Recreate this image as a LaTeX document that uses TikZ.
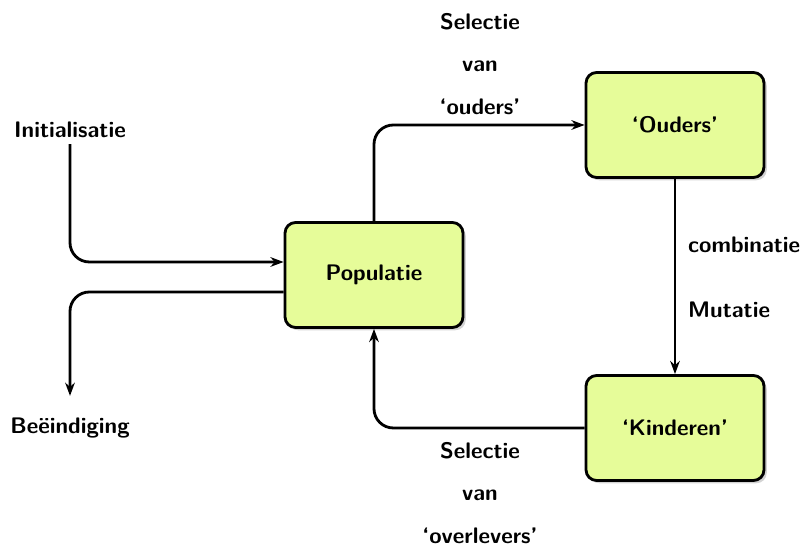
\documentclass[tikz,border=0pt]{standalone}
\usetikzlibrary{arrows.meta,shadows,calc}
\definecolor{boxfill}{RGB}{230,252,153}

\begin{document}
\begin{tikzpicture}[
        x=0.02cm, y=-0.02cm,
        every node/.style={
            font=\sffamily\bfseries\fontsize{12.8}{24}\selectfont
        },
        stage/.style= {
            draw, ultra thick, fill=boxfill, rounded corners=6pt,
            minimum width=3.56cm, minimum height=2.1cm,
            drop shadow={opacity=0.35, shadow xshift=1.6pt, shadow yshift=-1.6pt}
        },
        flow/.style = {
            draw, ultra thick, rounded corners=11pt,
            -{Stealth[length=7.5pt,width=5.5pt]}
        },
        ]
        \useasboundingbox (0,0) rectangle (802,546);
        \node [stage] (pop) at (374,275) {Populatie};
        \node [stage] (ouders) at (675,125) {‘Ouders’};
        \node [stage] (kinderen) at (675,428) {‘Kinderen’};
        \node (init) at (70,130) {Initialisatie};
        \node (einde) at (70,428) {Beëindiging};
        \node [align=center] (selouders) at (480,64) {Selectie\\van\\‘ouders’};
        \node [align=center] (selover) at (480,493) {Selectie\\van\\‘overlevers’};
        \node [anchor=west] (comb) at (682,245) {combinatie};
        \node [anchor=west] (mut) at (682,310) {Mutatie};
        \draw [flow] (init) |- ($(pop.west)+(0,-13)$);
        \draw [flow, shorten >=9pt] ($(pop.west)+(0,17)$) -| (einde);
        \draw [flow] (pop.north) |- (ouders.west);
        \draw [flow] (ouders) -- (kinderen);
        \draw [flow] (kinderen.west) -| (pop.south);
    \end{tikzpicture}
\end{document}
